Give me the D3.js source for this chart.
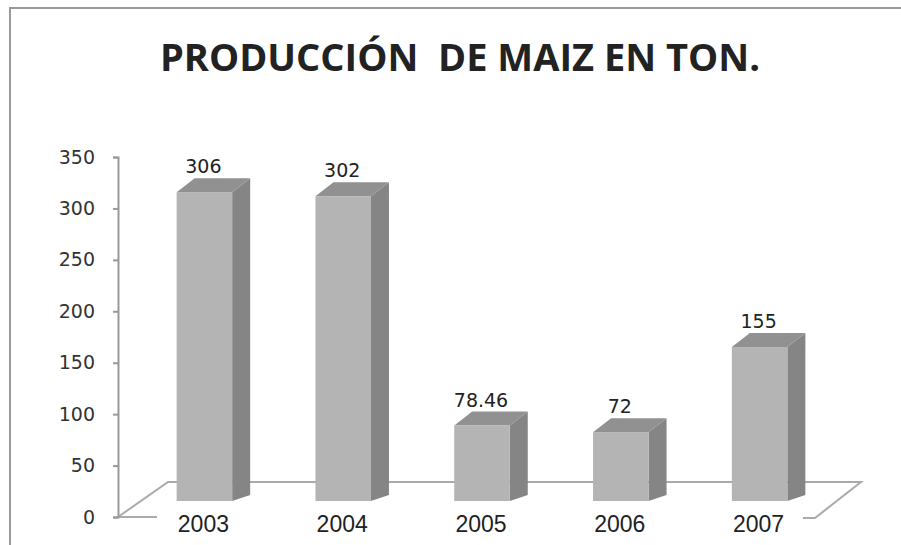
<!DOCTYPE html>
<html>
<head>
<meta charset="utf-8">
<script src="https://cdn.jsdelivr.net/npm/d3@7"></script>
<style>
  body { margin: 0; background: #fff; }
  svg { display: block; }
</style>
</head>
<body>
<svg class="maizsvg" width="901" height="545"></svg>
<script>

// datos del grafico
const years = ['2003', '2004', '2005', '2006', '2007'];
const tons = [306, 302, 78.46, 72, 155];
const valueLabels = ['306', '302', '78.46', '72', '155'];
const yTicks = [0, 50, 100, 150, 200, 250, 300, 350];
const chartTitle = 'PRODUCCIÓN  DE MAIZ EN TON.';

var svg = d3.select('.maizsvg');

const render = data => {

    const xValue = d => d.year;
    const yValue = d => d.value;

    // profundidad del efecto 3D
    const depth = { dx: 18, dy: -14 };

    const xScale = d3.scaleBand()
        .domain(data.map(xValue))
        .range([135, 829])
        .paddingInner(0.6)
        .paddingOuter(0.3);

    // eje (plano frontal)
    const yScale = d3.scaleLinear()
        .domain([0, 350])
        .range([517, 157]);

    // barras (a media profundidad)
    const yBar = d3.scaleLinear()
        .domain([0, 350])
        .range([506, 147]);
    const barBase = 501;

    // marco
    svg.append('path')
        .attr('d', 'M10,545 L10,8 L901,8')
        .attr('fill', 'none')
        .attr('stroke', '#999')
        .attr('stroke-width', 2);

    svg.append('text')
        .attr('x', 460)
        .attr('y', 71)
        .attr('text-anchor', 'middle')
        .attr('textLength', 600)
        .attr('lengthAdjust', 'spacingAndGlyphs')
        .style('white-space', 'pre')
        .style('font-family', '"Open Sans", sans-serif')
        .style('font-weight', 700)
        .style('font-size', '38px')
        .attr('fill', '#222')
        .text(chartTitle);

    // piso
    const x0 = 118, yFront = yScale(0), yBack = 482;
    const floor = svg.append('g')
        .attr('fill', 'none')
        .attr('stroke', '#aaa')
        .attr('stroke-width', 2);
    floor.append('path')
        .attr('d', `M${x0},${yFront} L${x0 + 50},${yBack} L861,${yBack} L815,${yFront + 1} L803,${yFront + 1}`);
    floor.append('path')
        .attr('d', `M${x0},${yFront} L157,${yFront}`);

    // eje Y
    const yAxis = d3.axisLeft(yScale)
        .tickValues(yTicks)
        .tickSize(5)
        .tickPadding(18)
        .tickFormat(d3.format(''));

    const yAxisG = svg.append('g')
        .attr('transform', `translate(${x0}, 0)`)
        .call(yAxis);

    yAxisG.selectAll('.domain, .tick line')
        .attr('stroke', '#999')
        .attr('stroke-width', 2);

    yAxisG.selectAll('.tick text')
        .style('font-family', '"DejaVu Sans", sans-serif')
        .style('font-size', '19px')
        .attr('fill', '#333');

    // barras 3D
    const bars = svg.selectAll('g.bar')
        .data(data)
        .enter()
        .append('g')
        .attr('class', 'bar');

    const w = xScale.bandwidth();

    bars.append('path')
        .attr('fill', '#858585')
        .attr('d', d => {
            const xr = xScale(xValue(d)) + w;
            const yt = yBar(yValue(d));
            return `M${xr},${yt} L${xr + depth.dx},${yt + depth.dy} L${xr + depth.dx},${barBase - 6} L${xr},${barBase} Z`;
        });

    bars.append('path')
        .attr('fill', '#919191')
        .attr('d', d => {
            const xl = xScale(xValue(d));
            const yt = yBar(yValue(d));
            return `M${xl},${yt} L${xl + depth.dx},${yt + depth.dy} L${xl + w + depth.dx},${yt + depth.dy} L${xl + w},${yt} Z`;
        });

    bars.append('rect')
        .attr('x', d => xScale(xValue(d)))
        .attr('y', d => yBar(yValue(d)))
        .attr('width', w)
        .attr('height', d => barBase - yBar(yValue(d)))
        .attr('fill', '#b4b4b4');

    bars.append('text')
        .attr('x', d => xScale(xValue(d)) + w / 2 - 1)
        .attr('y', d => yBar(yValue(d)) + depth.dy - 5)
        .attr('text-anchor', 'middle')
        .style('font-family', '"DejaVu Sans", sans-serif')
        .style('font-size', '19px')
        .attr('fill', '#222')
        .text(d => d.label);

    // etiquetas de categoria
    svg.append('g')
        .selectAll('text')
        .data(data)
        .enter()
        .append('text')
        .attr('x', d => xScale(xValue(d)) + w / 2 - 1)
        .attr('y', 532)
        .attr('text-anchor', 'middle')
        .style('font-family', '"Liberation Sans", Arial, sans-serif')
        .style('font-size', '23px')
        .attr('fill', '#222')
        .text(xValue);
};

const data = years.map((year, i) => ({ year: year, value: tons[i], label: valueLabels[i] }));

render(data);
</script>
</body>
</html>
